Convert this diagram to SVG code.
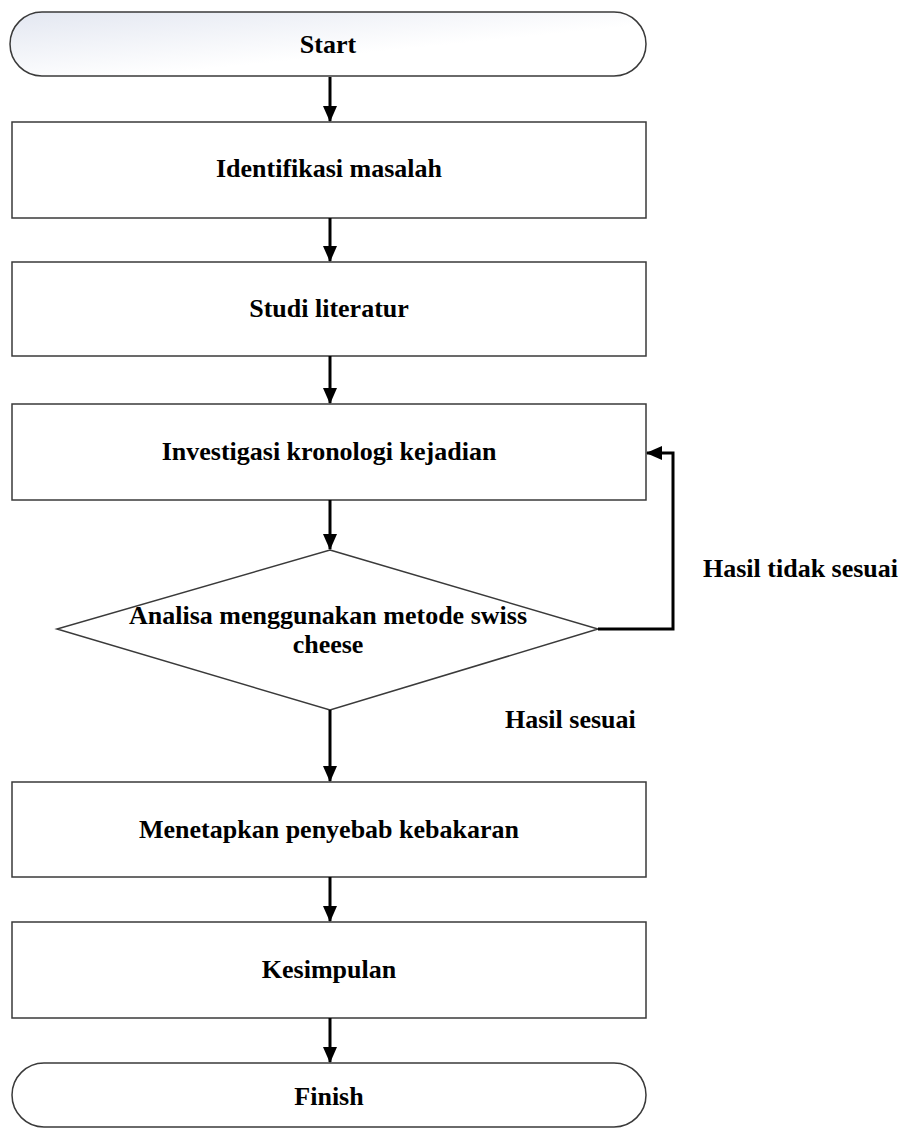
<svg xmlns="http://www.w3.org/2000/svg" width="911" height="1128" viewBox="0 0 911 1128">
<style>
.box{fill:#fff;stroke:#3a3a3a;stroke-width:1.5}
.t{font-family:"Liberation Serif","Times New Roman",serif;font-weight:bold;font-size:26px;fill:#000;text-anchor:middle}
.tl{font-family:"Liberation Serif","Times New Roman",serif;font-weight:bold;font-size:26px;fill:#000}
.c{stroke:#000;stroke-width:3;fill:none}
</style>
<defs>
<linearGradient id="g" x1="0" y1="0" x2="1" y2="1">
<stop offset="0" stop-color="#e3e7f1"/>
<stop offset="0.6" stop-color="#ffffff"/>
</linearGradient>
<marker id="ah" markerWidth="16" markerHeight="16" refX="15" refY="8" orient="auto" markerUnits="userSpaceOnUse" viewBox="0 0 16 16">
<path d="M0,1 L16,8 L0,15 z" fill="#000"/>
</marker>
</defs>
<g id="start">
<rect x="10" y="12" width="636" height="64" rx="32" ry="32" fill="url(#g)" stroke="#3a3a3a" stroke-width="1.5"/>
<text class="t" x="328" y="53">Start</text>
</g>
<g id="identifikasi">
<rect class="box" x="12" y="122" width="634" height="96"/>
<text class="t" x="329" y="177">Identifikasi masalah</text>
</g>
<g id="studi">
<rect class="box" x="12" y="262" width="634" height="94"/>
<text class="t" x="329" y="317">Studi literatur</text>
</g>
<g id="investigasi">
<rect class="box" x="12" y="404" width="634" height="96"/>
<text class="t" x="329" y="460">Investigasi kronologi kejadian</text>
</g>
<g id="analisa">
<polygon class="box" points="330,550 598,629 330,710 57,629"/>
<text class="t" x="328" y="624">Analisa menggunakan metode swiss</text>
<text class="t" x="328" y="653">cheese</text>
</g>
<g id="menetapkan">
<rect class="box" x="12" y="782" width="634" height="95"/>
<text class="t" x="329" y="838">Menetapkan penyebab kebakaran</text>
</g>
<g id="kesimpulan">
<rect class="box" x="12" y="922" width="634" height="96"/>
<text class="t" x="329" y="978">Kesimpulan</text>
</g>
<g id="finish">
<rect class="box" x="12" y="1063" width="634" height="64" rx="32" ry="32"/>
<text class="t" x="329" y="1105">Finish</text>
</g>
<g id="connectors">
<line class="c" x1="330" y1="77" x2="330" y2="121" marker-end="url(#ah)"/>
<line class="c" x1="330" y1="218" x2="330" y2="261" marker-end="url(#ah)"/>
<line class="c" x1="330" y1="356" x2="330" y2="403" marker-end="url(#ah)"/>
<line class="c" x1="330" y1="500" x2="330" y2="549" marker-end="url(#ah)"/>
<polyline class="c" points="598,629 673,629 673,453 647,453" marker-end="url(#ah)"/>
<line class="c" x1="330" y1="710" x2="330" y2="781" marker-end="url(#ah)"/>
<line class="c" x1="330" y1="877" x2="330" y2="921" marker-end="url(#ah)"/>
<line class="c" x1="330" y1="1018" x2="330" y2="1062" marker-end="url(#ah)"/>
<text class="tl" x="703" y="577">Hasil tidak sesuai</text>
<text class="tl" x="505" y="728">Hasil sesuai</text>
</g>
</svg>
